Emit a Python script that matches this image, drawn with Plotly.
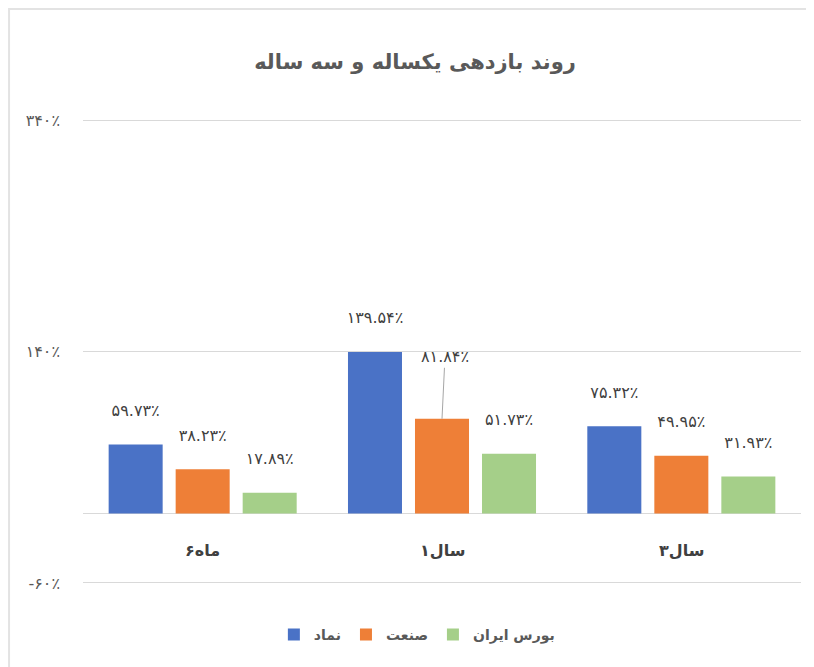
import plotly.graph_objects as go

categories = ["ماه۶", "سال۱", "سال۳"]
series_names = ["نماد", "صنعت", "بورس ایران"]
namad = [59.73, 139.54, 75.32]
sanat = [38.23, 81.84, 49.95]
bourse = [17.89, 51.73, 31.93]
tick_vals = [-60, 140, 340]
tick_text = ["-۶۰٪", "۱۴۰٪", "۳۴۰٪"]
colors = ["#4A72C6", "#EE7F37", "#A5CF89"]

FA = str.maketrans("0123456789", "۰۱۲۳۴۵۶۷۸۹")


def fa(v):
    return f"{v:.2f}".translate(FA) + "٪"


FONT = "DejaVu Sans"
series = [namad, sanat, bourse]

fig = go.Figure()
for i, (name, vals) in enumerate(zip(series_names, series)):
    fig.add_trace(go.Bar(
        x=categories, y=vals, name=name, marker_color=colors[i],
        marker_line_width=0, offsetgroup=str(i), alignmentgroup="a",
    ))

# data labels (text) aligned with bars
for i, vals in enumerate(series):
    texts = [fa(v) for v in vals]
    if i == 1:
        texts[1] = ""
    fig.add_trace(go.Scatter(
        x=categories, y=vals, mode="markers+text", text=texts,
        textposition="top center", offsetgroup=str(i), alignmentgroup="a",
        marker=dict(size=38, opacity=0), showlegend=False, hoverinfo="skip",
        textfont=dict(family=FONT, size=16, color="#404040"),
    ))

# moved label with leader line
fig.add_annotation(
    x=categories[1], y=sanat[1], text=fa(sanat[1]), showarrow=True,
    arrowhead=0, arrowwidth=1, arrowcolor="#A6A6A6", ax=3, ay=-62,
    font=dict(family=FONT, size=16, color="#404040"),
)

# category labels just below the zero line
for c in categories:
    fig.add_annotation(x=c, y=0, text=f"<b>{c}</b>", showarrow=False,
                       yshift=-37, font=dict(family=FONT, size=16, color="#404040"))

fig.add_shape(type="rect", xref="paper", yref="paper",
              x0=-0.103, x1=1.06, y0=-0.3, y1=1.221,
              line=dict(color="#E3E3E3", width=2), layer="below")

fig.update_layout(
    width=814, height=667,
    margin=dict(l=75, r=21, t=106, b=86),
    paper_bgcolor="white", plot_bgcolor="white",
    barmode="group", scattermode="group",
    bargap=0.16, bargroupgap=0.194,
    title=dict(text="<b>روند بازدهی یکساله و سه ساله</b>", x=0.5, xanchor="center",
               y=0.919, yanchor="middle",
               font=dict(family=FONT, size=21, color="#595959")),
    font=dict(family=FONT),
    xaxis=dict(showgrid=False, showline=False, zeroline=False, ticks="",
               showticklabels=False),
    yaxis=dict(range=[-65.2, 345.2], tickvals=tick_vals, ticktext=tick_text,
               showgrid=True, gridcolor="#D9D9D9", gridwidth=1,
               zeroline=True, zerolinecolor="#D9D9D9", zerolinewidth=1,
               tickfont=dict(family=FONT, size=16, color="#595959"),
               ticklabelstandoff=22, fixedrange=True),
    legend=dict(orientation="h", x=0.465, xanchor="center",
                yref="container", y=0.06, yanchor="middle",
                font=dict(family=FONT, size=14, color="#595959", weight="bold"),
                itemwidth=30, traceorder="normal"),
    showlegend=True,
)

fig.write_html("out.html")
